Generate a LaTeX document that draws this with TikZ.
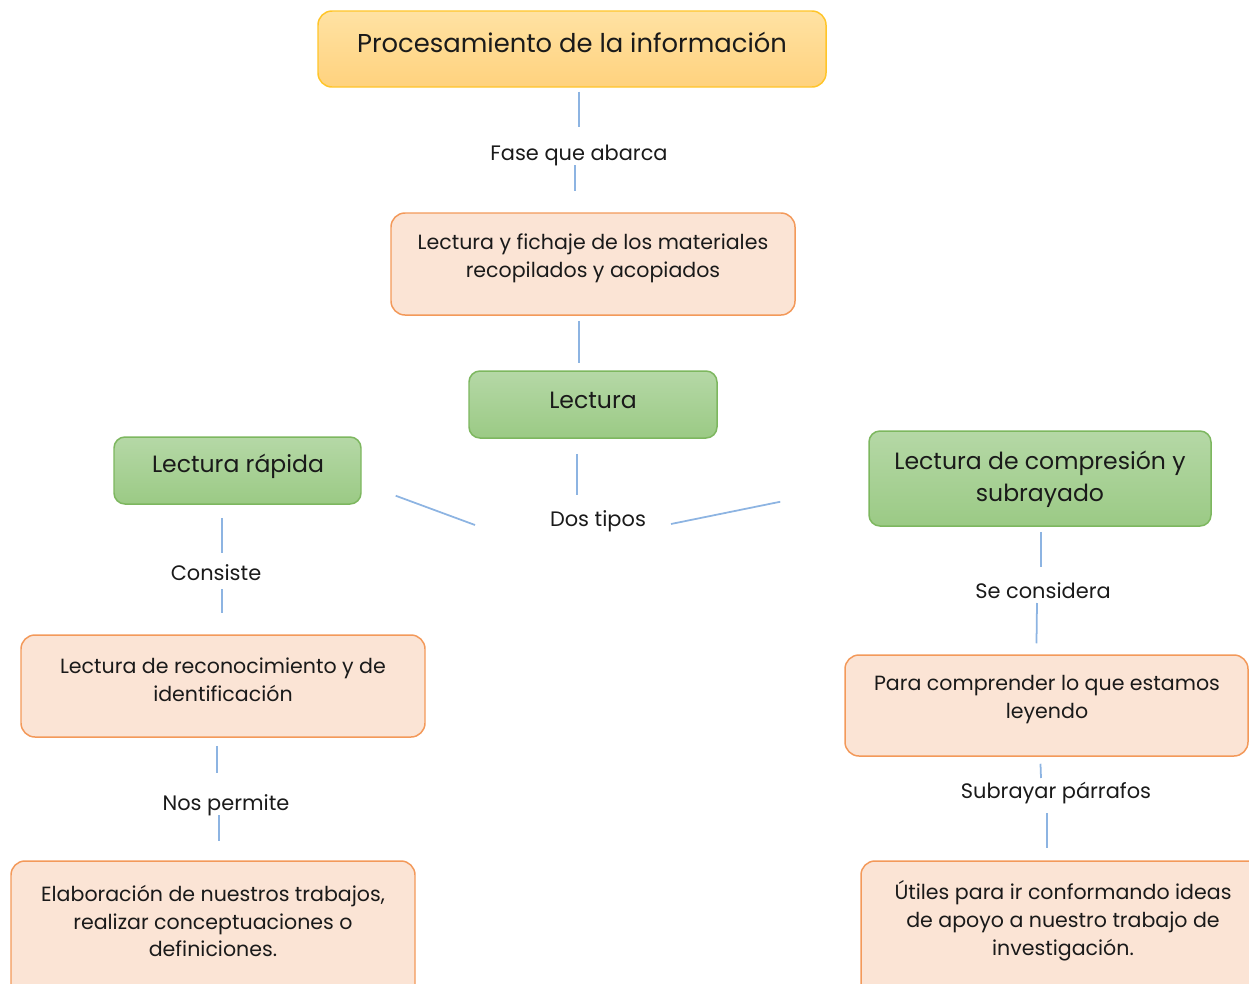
\documentclass[tikz,border=0pt]{standalone}
\usepackage{fontspec}
\setmainfont{Poppins}
\usetikzlibrary{calc}
\definecolor{conncol}{HTML}{8DB4E2}
\definecolor{ylwtop}{HTML}{FFE2A3}
\definecolor{ylwbot}{HTML}{FFD27E}
\definecolor{ylwline}{HTML}{FFC52A}
\definecolor{grntop}{HTML}{B5D8A6}
\definecolor{grnbot}{HTML}{9BCA85}
\definecolor{grnline}{HTML}{7DB75F}
\definecolor{orgfill}{HTML}{FBE4D5}
\definecolor{orgline}{HTML}{F3995A}
\definecolor{txtcol}{HTML}{1A1A1A}
\tikzset{
  boxbase/.style={rounded corners=0.28cm, line width=0.85pt, inner sep=0pt},
  ylwbox/.style={boxbase, draw=ylwline, top color=ylwtop, bottom color=ylwbot},
  grnbox/.style={boxbase, draw=grnline, top color=grntop, bottom color=grnbot, rounded corners=0.22cm},
  orgbox/.style={boxbase, draw=orgline, fill=orgfill},
  boxtxt/.style={align=center, text=txtcol, font=\fontsize{11.7}{15.9}\selectfont, inner sep=0pt},
  grntxt/.style={align=center, text=txtcol, font=\fontsize{13.4}{18.2}\selectfont, inner sep=0pt},
  lbl/.style={text=txtcol, font=\fontsize{11.9}{14}\selectfont, inner sep=0pt, anchor=base},
  conn/.style={draw=conncol, line width=1pt}
}
\begin{document}
\begin{tikzpicture}[x=0.02cm,y=-0.02cm]
\useasboundingbox (0,0) rectangle (1249,984);
\begin{scope}
\clip (0,0) rectangle (1249,984);
% boxes
\node[ylwbox, minimum width=508*0.02cm, minimum height=76*0.02cm] (p1) at (572,49) {};
\node[orgbox, minimum width=404*0.02cm, minimum height=102*0.02cm] (b2) at (593,264) {};
\node[grnbox, minimum width=248*0.02cm, minimum height=67*0.02cm] (lec) at (593,404.5) {};
\node[grnbox, minimum width=247*0.02cm, minimum height=67*0.02cm] (rap) at (237.5,470.5) {};
\node[grnbox, minimum width=342*0.02cm, minimum height=95*0.02cm] (comp) at (1040,478.5) {};
\node[orgbox, minimum width=404*0.02cm, minimum height=102*0.02cm] (rec) at (223,686) {};
\node[orgbox, minimum width=404*0.02cm, minimum height=140*0.02cm] (elab) at (213,931) {};
\node[orgbox, minimum width=403*0.02cm, minimum height=101*0.02cm] (para) at (1046.5,705.5) {};
\node[orgbox, minimum width=404*0.02cm, minimum height=140*0.02cm] (util) at (1063,931) {};
\end{scope}
% box texts
\node[grntxt, font=\fontsize{14.7}{17}\selectfont] (p1t) at (572,42.5) {Procesamiento de la información};
\node[boxtxt] (b2t) at (593,258) {Lectura y fichaje de los materiales\\recopilados y acopiados};
\node[grntxt] (lect) at (593,400.5) {Lectura};
\node[grntxt] (rapt) at (238,466.5) {Lectura rápida};
\node[grntxt] (compt) at (1040,479) {Lectura de compresión y\\subrayado};
\node[boxtxt] (rect) at (223,680) {Lectura de reconocimiento y de\\identificación};
\node[boxtxt] (elabt) at (213,921) {Elaboración de nuestros trabajos,\\realizar conceptuaciones o\\definiciones.};
\node[boxtxt] (parat) at (1047,700) {Para comprender lo que estamos\\leyendo};
\node[boxtxt] (utilt) at (1063,921) {Útiles para ir conformando ideas\\de apoyo a nuestro trabajo de\\investigación.};
% labels (placed by baseline)
\node[lbl] (fase) at (579,160) {Fase que abarca};
\node[lbl] (dos) at (598,526) {Dos tipos};
\node[lbl] (cons) at (216,580) {Consiste};
\node[lbl] (nos) at (226,810) {Nos permite};
\node[lbl] (secons) at (1043,598) {Se considera};
\node[lbl] (subr) at (1056,798) {Subrayar párrafos};
% connectors
\draw[conn] ($(p1.south)+(7,4)$) -- ($(fase.base)+(0,-33)$);
\draw[conn] ($(fase.base)+(-4,5)$) -- ($(b2.north)+(-18,-21)$);
\draw[conn] ($(b2.south)+(-14,5)$) -- ($(lec.north)+(-14,-7)$);
\draw[conn] ($(lec.south)+(-16,15)$) -- ($(dos.base)+(-21,-31)$);
\draw[conn] ($(rap.south east)+(34,-9)$) -- ($(dos.base)+(-123,-1)$);
\draw[conn] ($(dos.base)+(73,-2)$) -- ($(comp.south west)+(-88,-25)$);
\draw[conn] ($(rap.south)+(-15.5,13)$) -- ($(cons.base)+(6,-27)$);
\draw[conn] ($(cons.base)+(6,9)$) -- ($(rec.north)+(-1,-21)$);
\draw[conn] ($(rec.south)+(-6,8)$) -- ($(nos.base)+(-9,-37)$);
\draw[conn] ($(nos.base)+(-7,5)$) -- ($(elab.north)+(6,-19)$);
\draw[conn] ($(comp.south)+(1,5)$) -- ($(secons.base)+(-2,-31)$);
\draw[conn] ($(secons.base)+(-6,5)$) -- ($(para.north)+(-10,-11)$);
\draw[conn] ($(para.south)+(-6,7)$) -- ($(subr.base)+(-15,-20)$);
\draw[conn] ($(subr.base)+(-9,15)$) -- ($(util.north)+(-16,-12)$);
\end{tikzpicture}
\end{document}
